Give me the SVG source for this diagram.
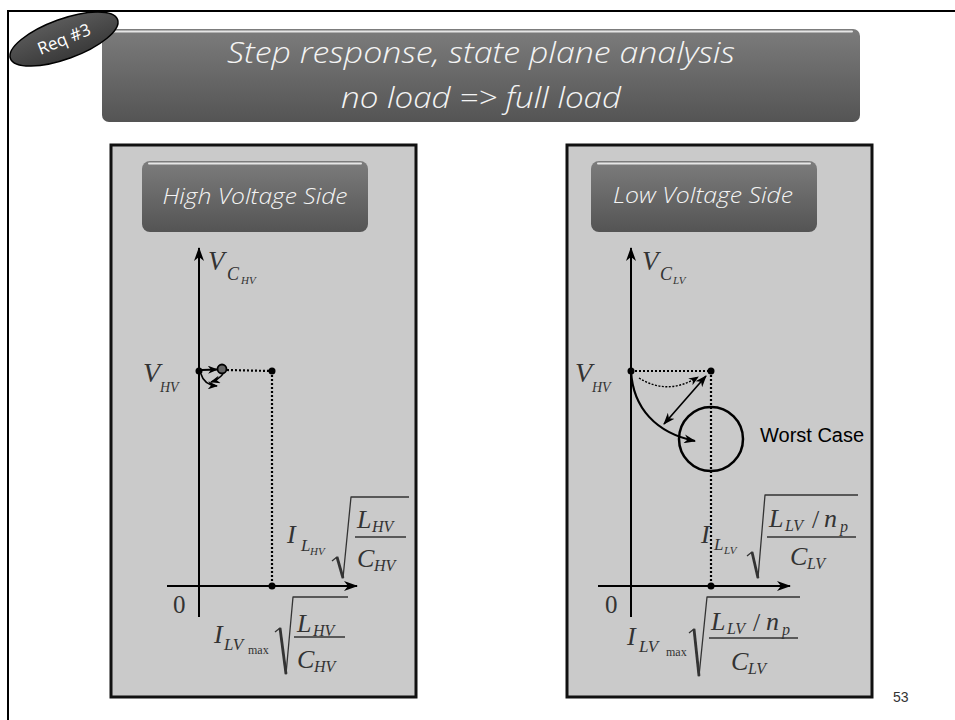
<svg xmlns="http://www.w3.org/2000/svg" width="955" height="720" viewBox="0 0 955 720">
<defs>
<linearGradient id="gbox" x1="0" y1="0" x2="0" y2="1">
<stop offset="0" stop-color="#7c7c7c"/>
<stop offset="1" stop-color="#545454"/>
</linearGradient>
<linearGradient id="gbadge" x1="0" y1="0" x2="0" y2="1">
<stop offset="0" stop-color="#5a5a5a"/>
<stop offset="1" stop-color="#3a3a3a"/>
</linearGradient>
<marker id="ax" viewBox="0 0 14 10" refX="13" refY="5" markerWidth="14" markerHeight="10" markerUnits="userSpaceOnUse" orient="auto">
<path d="M0,0 L14,5 L0,10 L4,5 z" fill="#000"/>
</marker>
<marker id="ah" viewBox="0 0 12 9" refX="11" refY="4.5" markerWidth="12" markerHeight="9" markerUnits="userSpaceOnUse" orient="auto-start-reverse">
<path d="M0,0 L12,4.5 L0,9 L3.5,4.5 z" fill="#000"/>
</marker>
<marker id="ahs" viewBox="0 0 10 8" refX="9" refY="4" markerWidth="10" markerHeight="8" markerUnits="userSpaceOnUse" orient="auto-start-reverse">
<path d="M0,0 L10,4 L0,8 L3,4 z" fill="#000"/>
</marker>
</defs>
<style>
.box{fill:url(#gbox);}
.hl{stroke:#e6e6e6;stroke-width:2;stroke-linecap:round;fill:none;}
.panel{fill:#cacaca;stroke:#111;stroke-width:3;}
.ttl{font-family:"Open Sans","Liberation Sans",sans-serif;font-style:italic;font-weight:300;fill:#f4f4f4;text-anchor:middle;}
.mi{font-family:"Liberation Serif",serif;font-style:italic;fill:#333;}
.mu{font-family:"Liberation Serif",serif;fill:#333;}
.axis{stroke:#000;stroke-width:2;fill:none;}
.dot{stroke:#000;stroke-width:2.2;stroke-dasharray:2 2;fill:none;}
.pt{fill:#000;}
.rad{stroke:#333;stroke-width:1.3;fill:none;stroke-linejoin:round;}
.radk{stroke:#333;stroke-width:2.8;fill:none;}
.bar{stroke:#333;stroke-width:1.3;}
.cur{stroke:#000;fill:none;}
</style>
<rect width="955" height="720" fill="#fff"/>
<path d="M8,720 L8,11 L955,11" fill="none" stroke="#000" stroke-width="2"/>

<g id="title">
<rect class="box" x="102" y="29" width="758" height="93" rx="7"/>
<line class="hl" x1="110" y1="31.5" x2="852" y2="31.5"/>
<text class="ttl" x="481" y="63" font-size="29" textLength="508" lengthAdjust="spacingAndGlyphs">Step response, state plane analysis</text>
<text class="ttl" x="481" y="108" font-size="29" textLength="280" lengthAdjust="spacingAndGlyphs">no load =&gt; full load</text>
</g>

<g id="badge">
<ellipse cx="64" cy="39" rx="57" ry="20" transform="rotate(-20 64 39)" fill="url(#gbadge)" stroke="#000" stroke-width="1.5"/>
<text x="64" y="45" transform="rotate(-22 64 39)" font-family="Open Sans, Liberation Sans, sans-serif" font-size="17" fill="#fff" text-anchor="middle">Req #3</text>
</g>

<g id="panel-hv">
<rect class="panel" x="111" y="145" width="305" height="552"/>
<g id="header-hv">
<rect class="box" x="142" y="161" width="226" height="71" rx="8"/>
<line class="hl" x1="149" y1="163.5" x2="361" y2="163.5"/>
<text class="ttl" x="255" y="204" font-size="22" textLength="185" lengthAdjust="spacingAndGlyphs">High Voltage Side</text>
</g>
<line class="axis" x1="199" y1="617" x2="199" y2="248" marker-end="url(#ax)"/>
<line class="axis" x1="167" y1="586" x2="357" y2="586" marker-end="url(#ax)"/>
<line class="dot" x1="227" y1="370" x2="271" y2="371"/>
<line class="dot" x1="272" y1="371" x2="272" y2="586"/>
<circle class="pt" cx="199" cy="371" r="3.5"/>
<circle class="pt" cx="272" cy="371" r="3.5"/>
<circle class="pt" cx="272" cy="586" r="3.5"/>
<circle cx="222" cy="369" r="4.5" fill="#666" stroke="#000" stroke-width="1.8"/>
<text class="mi" x="208" y="270" font-size="27">V</text>
<text class="mi" x="227" y="280" font-size="18">C</text>
<text class="mi" x="241" y="284" font-size="11">HV</text>
<text class="mi" x="143" y="382" font-size="28">V</text>
<text class="mi" x="160" y="392" font-size="14">HV</text>
<text class="mu" x="173" y="613" font-size="25">0</text>
<text class="mi" x="287" y="543" font-size="26">I</text>
<text class="mi" x="301" y="551" font-size="17">L</text>
<text class="mi" x="310" y="555" font-size="11">HV</text>
<polyline class="rad" points="332,561 337,557 343,578 351,497 409,497"/>
<line class="radk" x1="337" y1="557" x2="343" y2="578"/>
<text class="mi" x="357" y="528" font-size="26">L</text>
<text class="mi" x="372" y="532" font-size="16">HV</text>
<line class="bar" x1="355" y1="537" x2="406" y2="537"/>
<text class="mi" x="357" y="567" font-size="26">C</text>
<text class="mi" x="374" y="571" font-size="16">HV</text>
<text class="mi" x="214" y="643" font-size="26">I</text>
<text class="mi" x="224" y="650" font-size="17">LV</text>
<text class="mu" x="248" y="654" font-size="12">max</text>
<polyline class="rad" points="275,632 280,628 286,674 293,597 348,597"/>
<line class="radk" x1="280" y1="628" x2="286" y2="674"/>
<text class="mi" x="297" y="632" font-size="26">L</text>
<text class="mi" x="313" y="636" font-size="16">HV</text>
<line class="bar" x1="294" y1="637" x2="345" y2="637"/>
<text class="mi" x="297" y="668" font-size="26">C</text>
<text class="mi" x="314" y="672" font-size="16">HV</text>
</g>

<g id="panel-lv">
<rect class="panel" x="567" y="145" width="305" height="552"/>
<g id="header-lv">
<rect class="box" x="591" y="161" width="226" height="71" rx="8"/>
<line class="hl" x1="598" y1="163.5" x2="810" y2="163.5"/>
<text class="ttl" x="703" y="203" font-size="22" textLength="180" lengthAdjust="spacingAndGlyphs">Low Voltage Side</text>
</g>
<line class="axis" x1="631" y1="617" x2="631" y2="248" marker-end="url(#ax)"/>
<line class="axis" x1="598" y1="586" x2="790" y2="586" marker-end="url(#ax)"/>
<line class="dot" x1="631" y1="371" x2="711" y2="371"/>
<line class="dot" x1="711" y1="371" x2="711" y2="586"/>
<circle class="pt" cx="631" cy="371" r="3.5"/>
<circle class="pt" cx="711" cy="371" r="3.5"/>
<circle class="pt" cx="711" cy="586" r="3.5"/>
<circle cx="711" cy="439" r="32" fill="none" stroke="#000" stroke-width="2.5"/>
<text x="760" y="442" font-family="Liberation Sans, Arial, sans-serif" font-size="20" fill="#000">Worst Case</text>
<text class="mi" x="642" y="270" font-size="27">V</text>
<text class="mi" x="660" y="280" font-size="18">C</text>
<text class="mi" x="673" y="284" font-size="11">LV</text>
<text class="mi" x="575" y="382" font-size="28">V</text>
<text class="mi" x="592" y="392" font-size="14">HV</text>
<text class="mu" x="605" y="613" font-size="25">0</text>
<text class="mi" x="701" y="543" font-size="26">I</text>
<text class="mi" x="714" y="550" font-size="17">L</text>
<text class="mi" x="724" y="554" font-size="11">LV</text>
<polyline class="rad" points="747,556 752,552 758,578 765,495 858,495"/>
<line class="radk" x1="752" y1="552" x2="758" y2="578"/>
<text class="mi" x="769" y="527" font-size="26">L</text>
<text class="mi" x="785" y="531" font-size="16">LV</text>
<text class="mu" x="812" y="528" font-size="26">/</text>
<text class="mi" x="824" y="527" font-size="26">n</text>
<text class="mi" x="840" y="532" font-size="16">p</text>
<line class="bar" x1="767" y1="537" x2="856" y2="537"/>
<text class="mi" x="790" y="565" font-size="26">C</text>
<text class="mi" x="807" y="569" font-size="16">LV</text>
<text class="mi" x="627" y="645" font-size="26">I</text>
<text class="mi" x="639" y="652" font-size="17">LV</text>
<text class="mu" x="666" y="656" font-size="12">max</text>
<polyline class="rad" points="689,633 694,629 699,676 707,597 800,597"/>
<line class="radk" x1="694" y1="629" x2="699" y2="676"/>
<text class="mi" x="711" y="630" font-size="26">L</text>
<text class="mi" x="727" y="634" font-size="16">LV</text>
<text class="mu" x="753" y="631" font-size="26">/</text>
<text class="mi" x="766" y="630" font-size="26">n</text>
<text class="mi" x="782" y="635" font-size="16">p</text>
<line class="bar" x1="709" y1="638" x2="798" y2="638"/>
<text class="mi" x="731" y="670" font-size="26">C</text>
<text class="mi" x="748" y="674" font-size="16">LV</text>
</g>

<g id="connectors">
<line class="cur" x1="202" y1="370" x2="217" y2="369.5" stroke-width="2" marker-end="url(#ahs)"/>
<path class="cur" d="M201,374 Q204,385 217,386" stroke-width="1.6" marker-end="url(#ahs)"/>
<path class="cur" d="M223,374 Q218,380 211,382" stroke-width="1.4" marker-end="url(#ahs)"/>
<path class="cur" d="M639,378 Q668,396 698,377" stroke-width="1.4" stroke-dasharray="2 1.5" marker-end="url(#ahs)"/>
<line class="cur" x1="706" y1="376" x2="664" y2="424" stroke-width="1.6" marker-start="url(#ah)" marker-end="url(#ah)"/>
<path class="cur" d="M631,371 C633,408 656,433 695,441" stroke-width="2.2" marker-end="url(#ah)"/>
</g>

<text x="893" y="702" font-family="Liberation Sans, Arial, sans-serif" font-size="14" fill="#333">53</text>
</svg>
